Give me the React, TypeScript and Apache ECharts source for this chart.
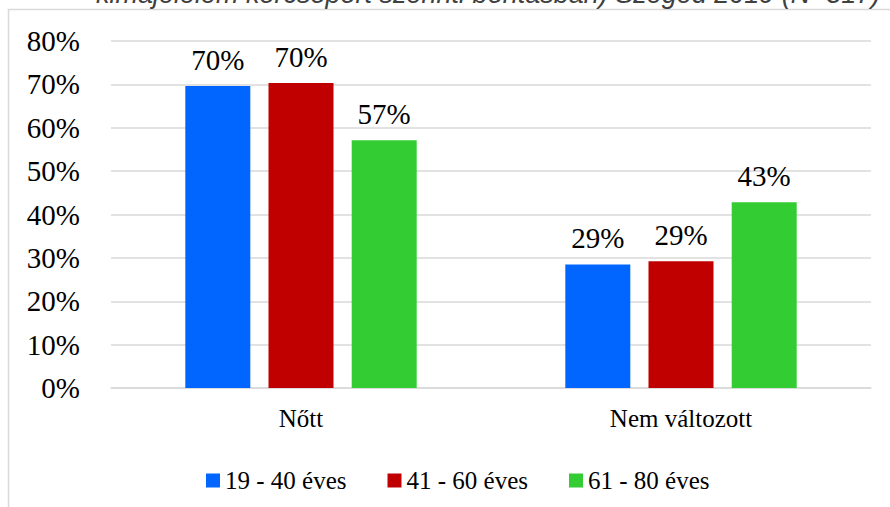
import React, { useEffect, useRef } from "react";
import * as echarts from "echarts";

const categories = ["Nőtt", "Nem változott"];
const seriesNames = ["19 - 40 éves", "41 - 60 éves", "61 - 80 éves"];
const young = [69.6, 28.5];
const middle = [70.3, 29.2];
const old = [57.1, 42.8];
const labelsYoung = ["70%", "29%"];
const labelsMiddle = ["70%", "29%"];
const labelsOld = ["57%", "43%"];
const colors = ["#0066FF", "#C00000", "#33CC33"];
const titleText = "kimajélelem korcsoport szerinti bontásban) Szeged 2019 (N=317)";

const FONT = "Liberation Serif";

export default function App() {
  const ref = useRef<HTMLDivElement>(null);
  useEffect(() => {
    document.body.style.margin = "0";
    const chart = echarts.init(ref.current!, null, { renderer: "svg" });
    const data = [young, middle, old];
    const labels = [labelsYoung, labelsMiddle, labelsOld];
    chart.setOption({
      animation: false,
      backgroundColor: "#ffffff",
      graphic: [
        {
          type: "rect",
          shape: { x: 8.5, y: 9.5, width: 900, height: 520 },
          style: { fill: "none", stroke: "#d9d9d9", lineWidth: 1.5 },
          silent: true,
        },
        {
          type: "text",
          left: 96,
          top: -20,
          style: {
            text: titleText,
            fontFamily: "Liberation Sans",
            fontStyle: "italic",
            fontSize: 27,
            fill: "#404040",
          },
          silent: true,
        },
      ],
      grid: { left: 111, right: 19, top: 41, bottom: 119 },
      legend: {
        left: 201,
        top: 463,
        itemWidth: 14,
        itemHeight: 14,
        itemGap: 41,
        icon: "rect",
        textStyle: { fontFamily: FONT, fontSize: 25, color: "#000" },
        data: seriesNames,
      },
      xAxis: {
        type: "category",
        data: categories,
        axisLine: { show: true, lineStyle: { color: "#d9d9d9", width: 1.5 } },
        axisTick: { show: false },
        axisLabel: { fontFamily: FONT, fontSize: 25, color: "#000", margin: 18 },
      },
      yAxis: {
        type: "value",
        min: 0,
        max: 80,
        interval: 10,
        axisLine: { show: false },
        axisTick: { show: false },
        splitLine: { lineStyle: { color: "#d9d9d9", width: 1.5 } },
        axisLabel: { formatter: "{value}%", fontFamily: FONT, fontSize: 29, color: "#000", margin: 31 },
      },
      series: seriesNames.map((name, i) => ({
        name,
        type: "bar",
        data: data[i],
        barWidth: 65,
        barGap: "28%",
        itemStyle: { color: colors[i] },
        label: {
          show: true,
          position: "top",
          distance: 12,
          fontFamily: FONT,
          fontSize: 29,
          color: "#000",
          formatter: (p: any) => labels[i][p.dataIndex],
        },
      })),
    });
    return () => chart.dispose();
  }, []);
  return <div ref={ref} style={{ width: 890, height: 507 }} />;
}
